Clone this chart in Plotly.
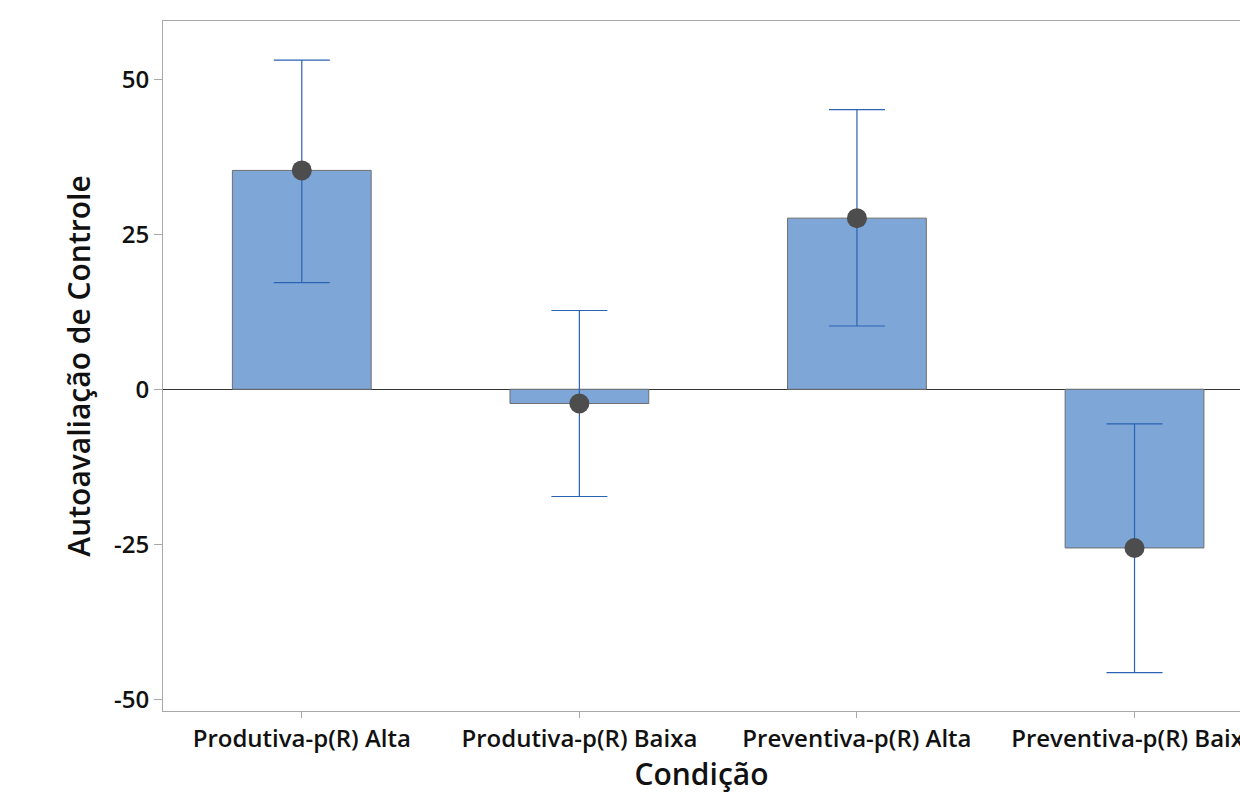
import plotly.graph_objects as go

categories = ["Produtiva-p(R) Alta", "Produtiva-p(R) Baixa", "Preventiva-p(R) Alta", "Preventiva-p(R) Baixa"]
means = [35.3, -2.3, 27.6, -25.6]
err_plus = [17.8, 15.0, 17.5, 20.0]
err_minus = [18.1, 15.0, 17.4, 20.1]
y_ticks = [-50, -25, 0, 25, 50]

fig = go.Figure()
fig.add_trace(go.Bar(
    x=categories, y=means, width=0.5,
    marker=dict(color="#7ea7d8", line=dict(color="#6e6e6e", width=1)),
    showlegend=False, hoverinfo="skip",
))
fig.add_trace(go.Scatter(
    x=categories, y=means, mode="markers",
    marker=dict(size=20, color="#4d4d4d"),
    error_y=dict(type="data", symmetric=False, array=err_plus, arrayminus=err_minus,
                 color="#2a63b2", thickness=1.2, width=28),
    showlegend=False,
))

font_family = "Open Sans, Noto Sans, sans-serif"
fig.update_layout(
    width=1240, height=794, autosize=False,
    margin=dict(l=163, r=0, t=21, b=83),
    paper_bgcolor="white", plot_bgcolor="white",
    font=dict(family=font_family, color="#111111"),
    xaxis=dict(
        range=[-0.5, 3.38], automargin=False, showgrid=False, showline=True,
        linecolor="#a8a8a8", linewidth=1,
        mirror=True, ticks="outside", ticklen=6, tickcolor="#a8a8a8",
        tickfont=dict(size=24, weight=600, family=font_family),
        title=dict(text="Condição", font=dict(size=30, weight=600, family=font_family), standoff=13),
    ),
    yaxis=dict(
        range=[-51.9, 59.4], automargin=False, showgrid=False, showline=True,
        linecolor="#a8a8a8", linewidth=1,
        mirror=True, ticks="outside", ticklen=8, tickcolor="#a8a8a8",
        tickvals=y_ticks, ticktext=[str(v) for v in y_ticks],
        tickfont=dict(size=24, weight=600, family=font_family),
        zeroline=True, zerolinecolor="#333333", zerolinewidth=1,
        title=dict(text="Autoavaliação de Controle", font=dict(size=30, weight=600, family=font_family), standoff=14),
    ),
)
fig.write_html(
    "out.html",
    config={"responsive": False, "displayModeBar": False},
    post_script="document.body.style.margin='0';document.body.style.overflow='hidden';",
)
